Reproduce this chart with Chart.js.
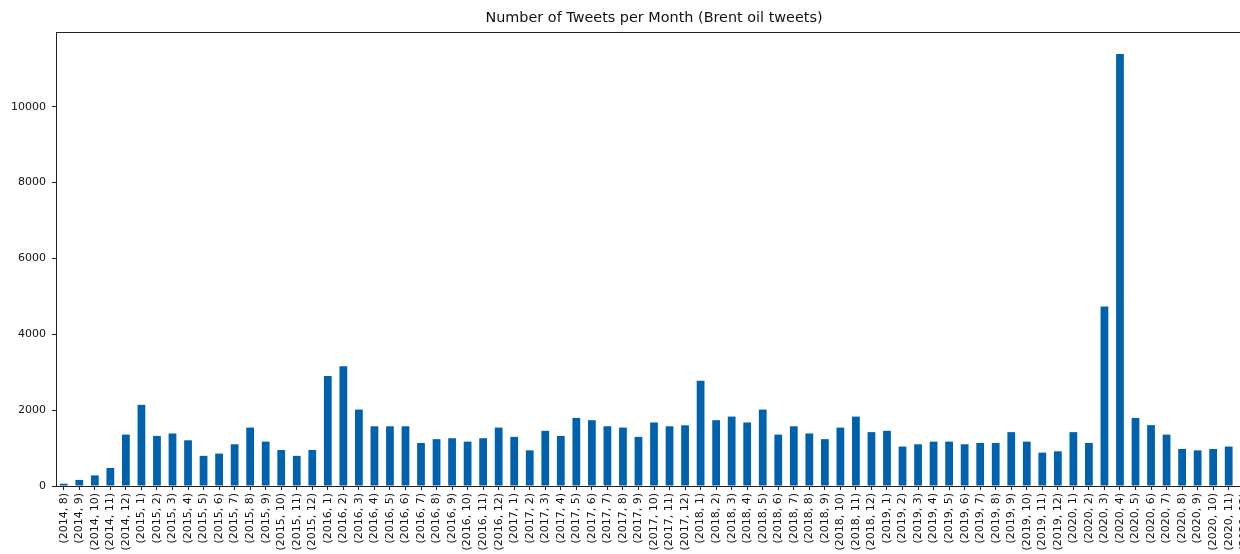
<!DOCTYPE html>
<html>
<head>
<meta charset="utf-8">
<script src="https://cdn.jsdelivr.net/npm/chart.js@4/dist/chart.umd.min.js"></script>
<style>
  html, body { margin: 0; padding: 0; background: #fff; overflow: hidden; }
  #wrap { width: 1240px; height: 554px; overflow: hidden; position: relative; }
  canvas { display: block; }
</style>
</head>
<body>
<div id="wrap"><canvas id="c" width="1252" height="554" style="width:1252px;height:554px"></canvas></div>
<script>
const categories = [
  "(2014, 8)","(2014, 9)","(2014, 10)","(2014, 11)","(2014, 12)",
  "(2015, 1)","(2015, 2)","(2015, 3)","(2015, 4)","(2015, 5)","(2015, 6)","(2015, 7)","(2015, 8)","(2015, 9)","(2015, 10)","(2015, 11)","(2015, 12)",
  "(2016, 1)","(2016, 2)","(2016, 3)","(2016, 4)","(2016, 5)","(2016, 6)","(2016, 7)","(2016, 8)","(2016, 9)","(2016, 10)","(2016, 11)","(2016, 12)",
  "(2017, 1)","(2017, 2)","(2017, 3)","(2017, 4)","(2017, 5)","(2017, 6)","(2017, 7)","(2017, 8)","(2017, 9)","(2017, 10)","(2017, 11)","(2017, 12)",
  "(2018, 1)","(2018, 2)","(2018, 3)","(2018, 4)","(2018, 5)","(2018, 6)","(2018, 7)","(2018, 8)","(2018, 9)","(2018, 10)","(2018, 11)","(2018, 12)",
  "(2019, 1)","(2019, 2)","(2019, 3)","(2019, 4)","(2019, 5)","(2019, 6)","(2019, 7)","(2019, 8)","(2019, 9)","(2019, 10)","(2019, 11)","(2019, 12)",
  "(2020, 1)","(2020, 2)","(2020, 3)","(2020, 4)","(2020, 5)","(2020, 6)","(2020, 7)","(2020, 8)","(2020, 9)","(2020, 10)","(2020, 11)","(2020, 12)"
];
const tweets2014 = [60, 160, 280, 475, 1355];
const tweets2015 = [2140, 1320, 1385, 1205, 795, 855, 1100, 1540, 1170, 950, 795, 950];
const tweets2016 = [2900, 3155, 2015, 1575, 1575, 1575, 1135, 1235, 1260, 1170, 1260, 1540];
const tweets2017 = [1295, 940, 1455, 1320, 1795, 1735, 1575, 1540, 1295, 1675, 1575, 1600];
const tweets2018 = [2775, 1735, 1830, 1675, 2015, 1355, 1575, 1385, 1235, 1540, 1830, 1420];
const tweets2019 = [1455, 1040, 1100, 1170, 1170, 1100, 1135, 1135, 1420, 1170, 880, 915];
const tweets2020 = [1420, 1135, 4730, 11390, 1795, 1605, 1355, 975, 940, 975, 1040, 905];
const tweetCounts = [].concat(tweets2014, tweets2015, tweets2016, tweets2017, tweets2018, tweets2019, tweets2020);
const yTicks = [0, 2000, 4000, 6000, 8000, 10000];
const yMax = 11970;

const framePlugin = {
  id: 'frame',
  afterDraw(chart) {
    const a = chart.chartArea, ctx = chart.ctx;
    ctx.save();
    ctx.strokeStyle = '#222';
    ctx.lineWidth = 1;
    ctx.strokeRect(Math.round(a.left) + 0.5, Math.round(a.top) + 0.5, Math.round(a.right - a.left) - 1, Math.round(a.bottom - a.top));
    ctx.restore();
  }
};

new Chart(document.getElementById('c'), {
  type: 'bar',
  data: {
    labels: categories,
    datasets: [{
      data: tweetCounts,
      backgroundColor: '#0062ad',
      borderWidth: 0,
      barPercentage: 0.5,
      categoryPercentage: 1.0
    }]
  },
  plugins: [framePlugin],
  options: {
    responsive: false,
    animation: false,
    devicePixelRatio: 1,
    layout: { padding: { left: 0, right: 0, top: 0, bottom: 0 } },
    plugins: {
      legend: { display: false },
      tooltip: { enabled: false },
      title: {
        display: true,
        fullSize: false,
        text: 'Number of Tweets per Month (Brent oil tweets)',
        color: '#111',
        font: { family: 'DejaVu Sans', size: 14.4, weight: 'normal' },
        padding: { top: 10, bottom: 4.7 }
      }
    },
    scales: {
      x: {
        type: 'category',
        offset: true,
        border: { display: false },
        grid: { display: true, drawOnChartArea: false, drawTicks: true, offset: false, tickLength: 4, color: '#222' },
        ticks: {
          autoSkip: false,
          maxRotation: 90,
          minRotation: 90,
          padding: 3,
          color: '#111',
          font: { family: 'DejaVu Sans', size: 11 }
        },
        afterFit(scale) { scale.height = 68; scale.paddingLeft = 0; scale.paddingRight = 0; }
      },
      y: {
        min: 0,
        max: yMax,
        border: { display: false },
        grid: { display: true, drawOnChartArea: false, drawTicks: true, tickLength: 4, color: '#222' },
        ticks: {
          padding: 6,
          color: '#111',
          font: { family: 'DejaVu Sans', size: 11 },
          callback: (v) => String(v)
        },
        afterBuildTicks(scale) { scale.ticks = yTicks.map(v => ({ value: v })); },
        afterFit(scale) { scale.width = 56; scale.paddingTop = 0; scale.paddingBottom = 0; }
      }
    }
  }
});
</script>
</body>
</html>
